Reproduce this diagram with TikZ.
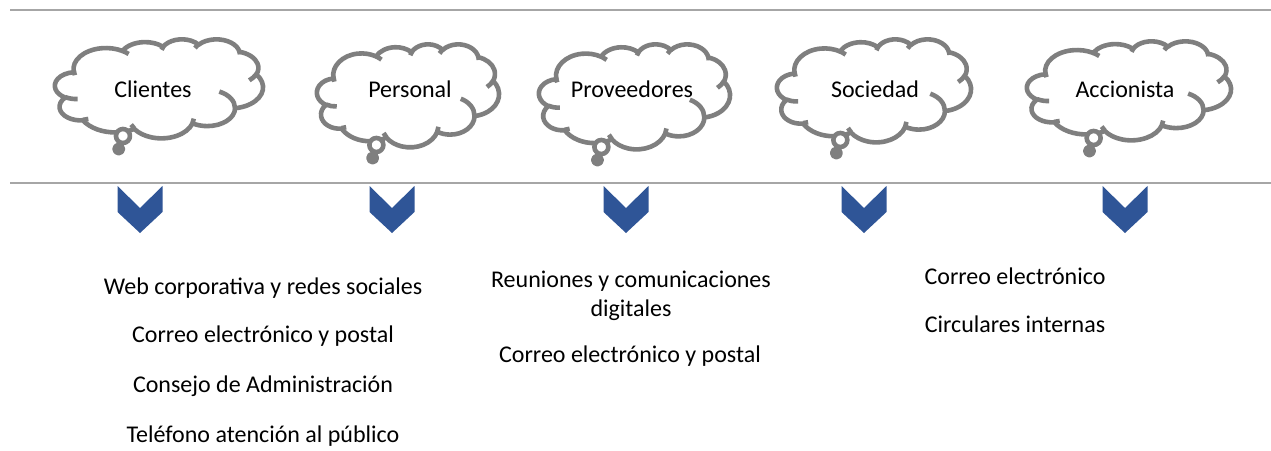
\documentclass[tikz,border=0pt]{standalone}
\usepackage{fontspec}
\setmainfont{Carlito}
\definecolor{cloudgray}{HTML}{7F7F7F}
\definecolor{rulegray}{HTML}{A6A6A6}
\definecolor{chevblue}{HTML}{2F5597}
% OOXML-style arcTo: wR hR startdeg sweepdeg (radii in 43200 units)
\newcommand\oa[4]{arc[x radius={#1/432}, y radius={#2/432},
  start angle={atan2(#1*sin(#3),#2*cos(#3))},
  delta angle={mod(atan2(#1*sin(#3+#4),#2*cos(#3+#4))-atan2(#1*sin(#3),#2*cos(#3))+720,360)}]}
\newcommand\cloudbody{%
  (9.0278,33.2639) \oa{6753}{9190}{-190.4875}{123.7805}
  \oa{5333}{7267}{-144.1024}{89.9452}
  \oa{4365}{5945}{-145.8079}{99.7230}
  \oa{4857}{6595}{-130.9861}{117.2417}
  \oa{5333}{7273}{-78.7089}{109.0269}
  \oa{6775}{9220}{-46.2673}{130.2690}
  \oa{5785}{7867}{0.6250}{114.0333}
  \oa{6752}{9215}{22.4516}{115.1726}
  \oa{7720}{10543}{66.2426}{75.7110}
  \oa{4360}{5918}{-274.9421}{146.7356}
  \oa{4345}{5945}{-246.8285}{152.5189} -- cycle}
\newcommand\cloudinner{%
  (10.8634,60.5949) \oa{4345}{5945}{86.7420}{26.4295}
  (16.0370,80.7847) \oa{4360}{5918}{73.6105}{11.4475}
  (38.1435,90.4861) \oa{6752}{9215}{137.6242}{14.0811}
  (66.7292,80.4421) \oa{6752}{9215}{6.4533}{15.9984}
  (79.0023,53.1343) \oa{5785}{7867}{-70.2924}{70.9174}
  (96.7546,35.5417) \oa{5333}{7273}{30.3180}{27.7515}
  (88.7130,12.5602) \oa{4857}{6595}{-13.7443}{14.8589}
  (67.3102,9.1481) \oa{4857}{6595}{-149.1815}{18.1954}
  (51.2523,10.9259) \oa{4365}{5945}{-163.4943}{17.6864}
  (32.4074,12.0185) \oa{6753}{9190}{-66.7070}{12.3194}
  (9.5532,36.5486) \oa{6753}{9190}{157.9669}{18.6358}}
\tikzset{
  cloudline/.style={draw=cloudgray, line width=4.6pt, line join=round},
  rule/.style={draw=rulegray, line width=2.2pt},
  chev/.style={fill=chevblue, draw=none},
  lbl/.style={font=\fontsize{24}{29}\selectfont, inner sep=0pt, anchor=base, text=black},
}
% #1 left, #2 top, #3 width, #4 height, #5 name, #6 label, #7 label x, #8 label baseline
\newcommand\thoughtcloud[8]{%
  \begin{scope}[shift={(#1+2,#2+1)}, xscale={(#3-4)/100}, yscale={(#4+4)/100}]
    \path[cloudline, fill=white] \cloudbody;
    \path[cloudline] \cloudinner;
  \end{scope}
  \path[cloudline, fill=white] (#1+0.33*#3,#2+#4+3) circle[radius=7pt];
  \path[cloudline, fill=cloudgray] (#1+0.31*#3,#2+#4+16) circle[radius=4.2pt];
  \node[lbl] (#5) at (#7,#8) {#6};
}
\newcommand\chevron[2]{%
  \path[chev] (#1-22.5,186) -- (#1,208) -- (#1+22.5,186) -- (#1+22.5,212)
    -- (#1,233) -- (#1-22.5,212) -- cycle;
  \coordinate (#2) at (#1,210);
}
\begin{document}
\begin{tikzpicture}[x=1pt,y=-1pt]
\useasboundingbox (0,0) rectangle (1271,450);
\coordinate (r1a) at (10,10);
\coordinate (r1b) at (1271,10);
\coordinate (r2a) at (10,183);
\coordinate (r2b) at (1271,183);
\draw[rule] (r1a) -- (r1b);
\draw[rule] (r2a) -- (r2b);

\thoughtcloud{53}{38}{212}{95}{c1}{Clientes}{153}{97}
\thoughtcloud{315}{43}{186}{99}{c2}{Personal}{410}{97}
\thoughtcloud{537}{43}{195}{101}{c3}{Proveedores}{632}{97}
\thoughtcloud{775}{38}{198}{99}{c4}{Sociedad}{875}{97}
\thoughtcloud{1025}{40}{208}{95}{c5}{Accionista}{1125}{97}

\chevron{140}{v1}
\chevron{392}{v2}
\chevron{626}{v3}
\chevron{864}{v4}
\chevron{1125}{v5}

\node[lbl] (a1) at (263,294) {Web corporativa y redes sociales};
\node[lbl] (a2) at (263,342) {Correo electrónico y postal};
\node[lbl] (a3) at (263,392) {Consejo de Administración};
\node[lbl] (a4) at (263,442) {Teléfono atención al público};

\node[lbl, anchor=center, align=center] (b1) at (631,296) {Reuniones y comunicaciones\\digitales};
\node[lbl] (b2) at (630,362) {Correo electrónico y postal};

\node[lbl] (d1) at (1015,284) {Correo electrónico};
\node[lbl] (d2) at (1015,332) {Circulares internas};
\end{tikzpicture}
\end{document}
